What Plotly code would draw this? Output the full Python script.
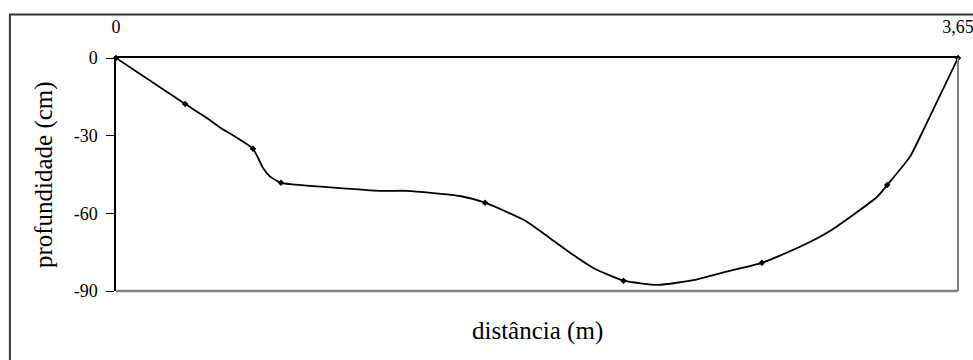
import plotly.graph_objects as go

# profile line (distance in m, depth in cm)
dist = [0, 0.30, 0.386, 0.451, 0.594, 0.638, 0.668, 0.715, 0.754, 1.144, 1.260,
        1.491, 1.60, 1.773, 1.881, 1.997, 2.069, 2.20, 2.351, 2.510, 2.647, 2.80,
        2.951, 3.095, 3.299, 3.343, 3.442, 3.507, 3.65]
depth = [0, -17.8, -22.7, -26.8, -35.1, -42.6, -45.8, -48.2, -48.7, -51.3, -51.3,
         -53.3, -55.9, -62.8, -69.6, -77.0, -81.1, -86.0, -87.6, -85.7, -82.5, -79.1,
         -73.5, -66.8, -53.7, -49.1, -38.1, -26.5, 0]

# measured points (markers)
mdist = [0, 0.30, 0.594, 0.715, 1.60, 2.20, 2.80, 3.343, 3.65]
mdepth = [0, -17.8, -35.1, -48.2, -55.9, -86.0, -79.1, -49.1, 0]

xticks = [0, 3.65]
xticklabels = ["0", "3,65"]
yticks = [0, -30, -60, -90]
yticklabels = ["0", "-30", "-60", "-90"]

FONT = "Liberation Serif"

fig = go.Figure()
fig.add_trace(go.Scatter(x=dist, y=depth, mode="lines",
                         line=dict(color="black", width=1.8, shape="spline", smoothing=0.5),
                         cliponaxis=False, showlegend=False, hoverinfo="skip"))
fig.add_trace(go.Scatter(x=mdist, y=mdepth, mode="markers",
                         marker=dict(color="black", size=5, symbol="diamond"),
                         cliponaxis=False, showlegend=False))

fig.update_layout(
    width=973, height=360,
    margin=dict(l=116, r=15, t=58, b=69, autoexpand=False),
    paper_bgcolor="white", plot_bgcolor="white",
    font=dict(family=FONT, size=18, color="black"),
    xaxis=dict(range=[0, 3.65], side="top", showline=True, linecolor="black", linewidth=2,
               tickvals=xticks, ticktext=xticklabels, ticks="", showgrid=False,
               zeroline=False, ticklabelstandoff=16, automargin=False,
               ticklabeloverflow="allow",
               tickfont=dict(family=FONT, size=18, color="black")),
    yaxis=dict(range=[-90, 0], showline=True, linecolor="black", linewidth=1.5,
               tickvals=yticks, ticktext=yticklabels, ticks="outside", ticklen=8,
               tickcolor="black", showgrid=False, zeroline=False, automargin=False,
               ticklabelstandoff=5,
               tickfont=dict(family=FONT, size=18, color="black")),
    shapes=[
        # outer chart border
        dict(type="rect", xref="paper", yref="paper", x0=-0.126, x1=1.03, y0=-0.35, y1=1.187,
             line=dict(color="#333333", width=2), layer="below"),
        # plot area right and bottom borders
        dict(type="line", xref="paper", yref="paper", x0=1, x1=1, y0=0, y1=1,
             line=dict(color="#808080", width=2)),
        dict(type="line", xref="paper", yref="paper", x0=0, x1=1, y0=0, y1=0,
             line=dict(color="#808080", width=2.5)),
    ],
    annotations=[
        dict(text="distância (m)", xref="paper", yref="paper", x=0.5, y=-0.17,
             showarrow=False, font=dict(family=FONT, size=25, color="black"),
             xanchor="center", yanchor="middle"),
        dict(text="profundidade (cm)", xref="paper", yref="paper", x=-0.086, y=0.5,
             showarrow=False, textangle=-90, font=dict(family=FONT, size=25, color="black"),
             xanchor="center", yanchor="middle"),
    ],
)

fig.write_html(
    "out.html",
    config={"displayModeBar": False},
    post_script="document.body.style.margin='0';document.body.style.overflow='hidden';",
)
